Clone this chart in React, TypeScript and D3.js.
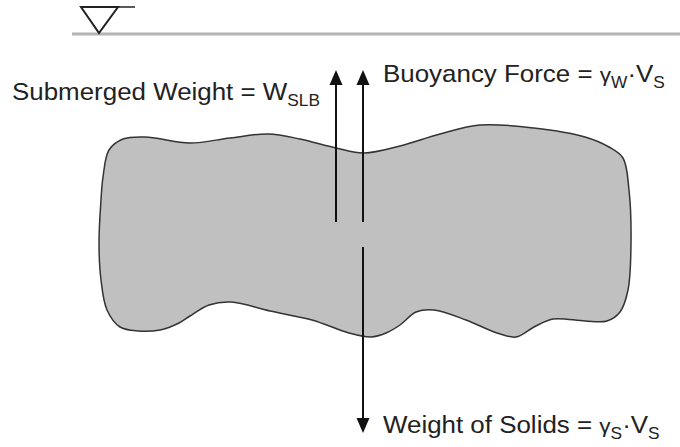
import React from "react";
import * as d3 from "d3";

// Outline of the submerged body (clockwise from top-left)
const blobX = [109, 123, 145, 190, 230, 268, 300, 336, 364, 400, 440, 480, 534, 585, 609, 623, 629, 631, 628, 620, 607, 585, 553, 534, 516, 497, 466, 434, 416, 400, 386, 371, 349, 312, 270, 231, 209, 190, 179, 160, 138, 120, 107, 101, 99, 101, 103];
const blobY = [150, 139, 137, 143, 138, 134, 139, 148, 153, 146, 134, 125, 128, 137, 147, 158, 190, 243, 290, 312, 321, 321, 319, 327, 337, 333, 320, 310, 312, 325, 333, 337, 333, 320, 311, 302, 305, 316, 323, 330, 331, 327, 310, 280, 243, 200, 177];

// Water surface
const waterY = 34;
const waterStart = 72;
const waterEnd = 680;
const triX = [81, 118, 99];
const triY = [7, 7, 33];
const triLineEnd = 135;

// Force arrows: x, tail y, tip y
const arrowsUp = [
  { x: 336, y1: 222, y2: 70 },
  { x: 363, y1: 222, y2: 70 },
];
const arrowsDown = [{ x: 363, y1: 247, y2: 433 }];

// Labels
const labelSub = { main: "Submerged Weight = W", sub: "SLB" };
const labelBuoy = { main: "Buoyancy Force = ", g: "γ", gsub: "W", v: "V", vsub: "S" };
const labelSolid = { main: "Weight of Solids = ", g: "γ", gsub: "S", v: "V", vsub: "S" };

const FONT = "'Liberation Sans', Arial, Helvetica, sans-serif";
const STRETCH = 1.08;
const FS = 24;
const SUB = 16;

function Arrow({ x, y1, y2 }: { x: number; y1: number; y2: number }) {
  const dir = y2 < y1 ? -1 : 1;
  const headLen = 15;
  const headW = 6.5;
  const base = y2 - dir * headLen;
  return (
    <g>
      <line x1={x} y1={y1} x2={x} y2={base} stroke="#111" strokeWidth={2} />
      <path d={`M${x},${y2} L${x - headW},${base} L${x + headW},${base} Z`} fill="#111" />
    </g>
  );
}

function Formula({ x, y, l }: { x: number; y: number; l: typeof labelBuoy }) {
  return (
    <g transform={`translate(${x},${y}) scale(${STRETCH},1)`}>
      <text x={0} y={0} fontSize={FS} fill="#222">
        {l.main}
        <tspan fontSize={21}>{l.g}</tspan>
        <tspan fontSize={SUB} dy={6}>{l.gsub}</tspan>
        <tspan dy={-6}>·</tspan>
        {l.v}
        <tspan fontSize={SUB} dy={6}>{l.vsub}</tspan>
      </text>
    </g>
  );
}

export default function App() {
  const sx = d3.scaleIdentity();
  const sy = d3.scaleIdentity();
  const pts: [number, number][] = blobX.map((x, i) => [x, blobY[i]]);
  const blobPath = d3
    .line<[number, number]>()
    .x((d) => sx(d[0]))
    .y((d) => sy(d[1]))
    .curve(d3.curveCatmullRomClosed.alpha(0.5))(pts) as string;

  const triPath = d3.line()(triX.map((x, i) => [sx(x), sy(triY[i])] as [number, number])) + "Z";

  return (
    <svg
      width={680}
      height={447}
      style={{ position: "absolute", left: 0, top: 0, background: "#fff" }}
      fontFamily={FONT}
    >
      <rect width={680} height={447} fill="#fff" />
      {/* water surface */}
      <line x1={sx(waterStart)} y1={sy(waterY)} x2={sx(waterEnd)} y2={sy(waterY)} stroke="#b4b4b4" strokeWidth={3} />
      <path d={triPath} fill="none" stroke="#222" strokeWidth={2} strokeLinejoin="miter" />
      <line x1={sx(triX[1])} y1={sy(triY[1])} x2={sx(triLineEnd)} y2={sy(triY[1])} stroke="#222" strokeWidth={1.5} />

      {/* submerged body */}
      <path d={blobPath} fill="#c0c0c0" stroke="#333" strokeWidth={1.5} />

      {/* arrows */}
      {arrowsUp.map((a, i) => (
        <Arrow key={"u" + i} {...a} />
      ))}
      {arrowsDown.map((a, i) => (
        <Arrow key={"d" + i} {...a} />
      ))}

      {/* labels */}
      <g transform={`translate(12,100) scale(${STRETCH},1)`}>
        <text x={0} y={0} fontSize={FS} fill="#222">
          {labelSub.main}
          <tspan fontSize={SUB} dy={6}>{labelSub.sub}</tspan>
        </text>
      </g>
      <Formula x={383} y={82} l={labelBuoy} />
      <Formula x={383} y={433} l={labelSolid} />
    </svg>
  );
}
